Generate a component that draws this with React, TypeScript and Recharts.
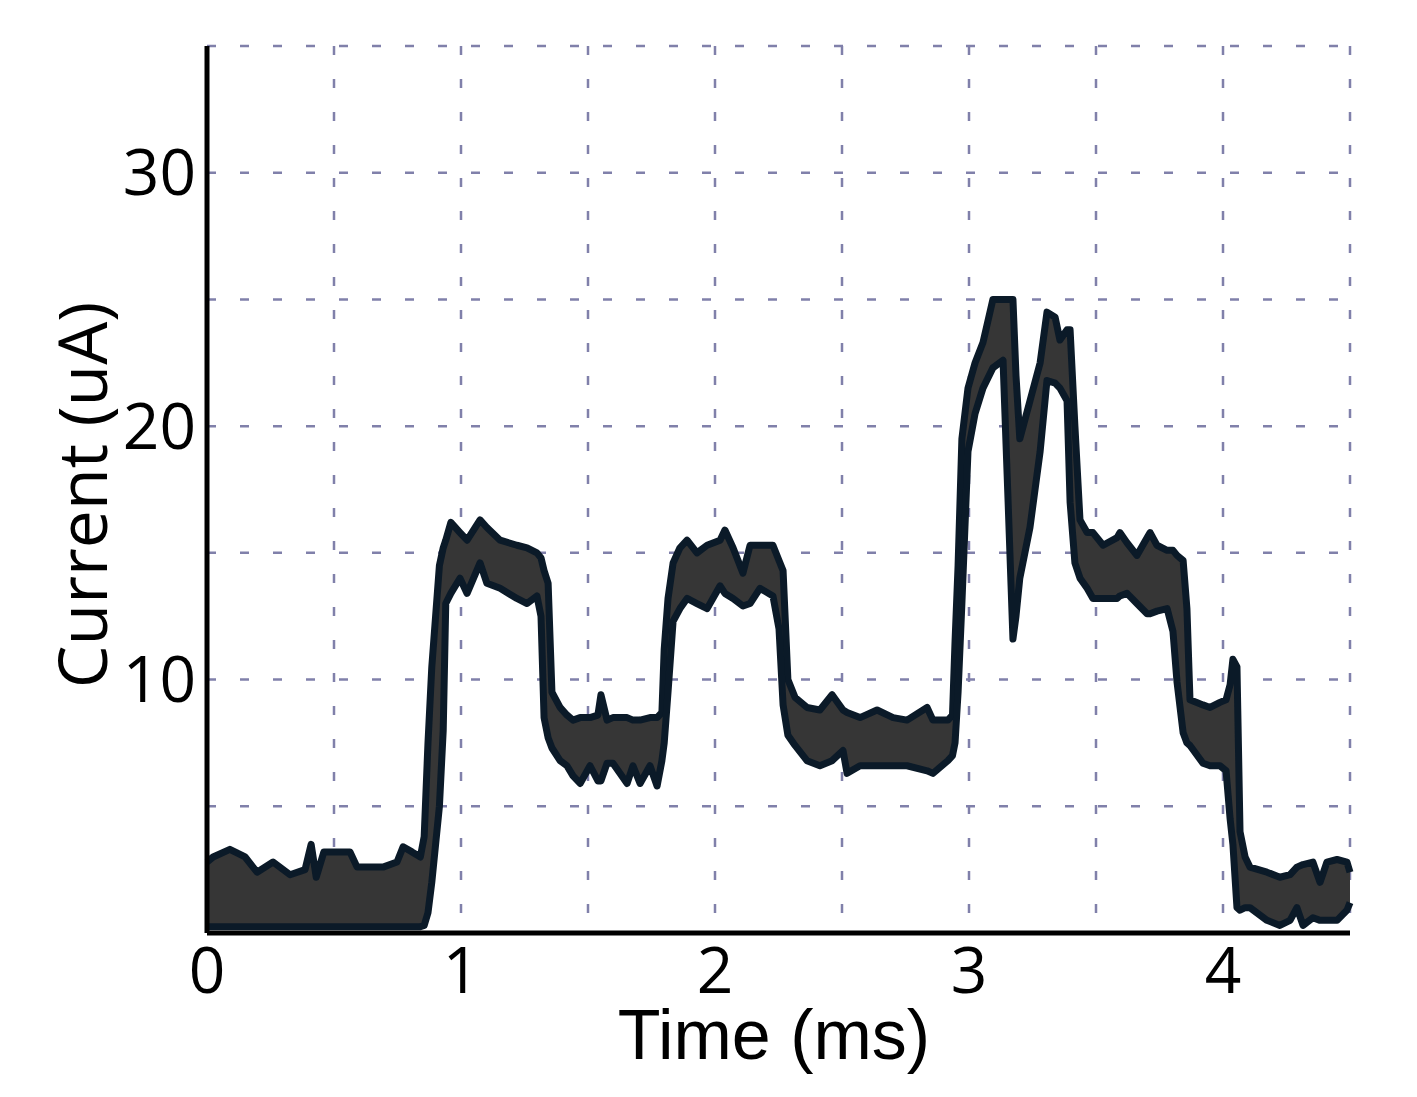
import { ComposedChart, Area, XAxis, YAxis, CartesianGrid } from "recharts";

// time in ms, and lower/upper edge of the current trace band in uA
const timeMs = [
  0, 0.024, 0.09, 0.15, 0.197, 0.26, 0.327, 0.386, 0.41, 0.43, 0.46, 0.496, 0.563, 0.591, 0.693, 0.748, 0.772, 0.807,
  0.84, 0.855, 0.87, 0.885, 0.9, 0.915, 0.93, 0.94, 0.96,
  0.996, 1.024, 1.075, 1.102, 1.154, 1.22, 1.26, 1.299, 1.315, 1.327, 1.343, 1.358,
  1.39, 1.417, 1.441, 1.469, 1.508, 1.539, 1.551, 1.575, 1.598, 1.654, 1.677, 1.705, 1.744, 1.772, 1.791,
  1.8, 1.815, 1.835, 1.862, 1.89,
  1.929, 1.969, 2.02, 2.039, 2.071, 2.11, 2.138, 2.177, 2.228, 2.252, 2.268, 2.287,
  2.315, 2.362, 2.413, 2.461, 2.504, 2.52, 2.571, 2.638, 2.701, 2.756, 2.835, 2.858, 2.917,
  2.935, 2.945, 2.957, 2.972, 2.996, 3.024, 3.055, 3.094, 3.134, 3.154, 3.173, 3.185, 3.2, 3.24, 3.28,
  3.307, 3.339, 3.358, 3.386, 3.398, 3.417, 3.437,
  3.465, 3.488, 3.528, 3.583, 3.594, 3.622, 3.661, 3.701, 3.713, 3.74, 3.78, 3.803, 3.819, 3.843, 3.858, 3.87,
  3.921, 3.949, 3.988, 4.012, 4.028, 4.039, 4.055, 4.067, 4.087,
  4.106, 4.173, 4.224, 4.264, 4.291, 4.315, 4.354, 4.382, 4.409, 4.449, 4.488, 4.5,
];

const lowUA = [
  0.25, 0.25, 0.25, 0.25, 0.25, 0.25, 0.25, 0.25, 0.25, 0.25, 0.25, 0.25, 0.25, 0.25, 0.25, 0.25, 0.25, 0.25,
  0.25, 0.3, 0.8, 2, 3.5, 5, 8, 13, 13.4,
  14.0, 13.4, 14.6, 13.8, 13.6, 13.2, 13.0, 13.3, 12.5, 8.5, 7.7, 7.3,
  6.8, 6.6, 6.2, 5.9, 6.6, 6.0, 6.0, 6.7, 6.7, 5.9, 6.6, 5.9, 6.6, 5.8, 6.8,
  7.5, 9.5, 12.3, 12.8, 13.2,
  13.0, 12.8, 13.7, 13.4, 13.2, 12.9, 13.0, 13.6, 13.3, 12.0, 9.0, 7.8,
  7.4, 6.8, 6.6, 6.8, 7.2, 6.3, 6.6, 6.6, 6.6, 6.6, 6.4, 6.3, 6.8,
  7.0, 7.5, 9.5, 13.0, 19.0, 20.5, 21.5, 22.3, 22.6, 17.0, 11.6, 12.5, 14.0, 16.0, 19.0,
  21.8, 21.7, 21.5, 21.0, 17.0, 14.6, 14.0,
  13.6, 13.2, 13.2, 13.2, 13.3, 13.4, 13.0, 12.6, 12.6, 12.7, 12.8, 11.9, 9.9, 7.9, 7.5, 7.4,
  6.7, 6.6, 6.6, 6.4, 4.5, 3.5, 1.0, 0.9, 1.0,
  1.0, 0.5, 0.3, 0.5, 1.0, 0.3, 0.6, 0.5, 0.5, 0.5, 0.9, 1.2,
];

const highUA = [
  2.8, 3.0, 3.3, 3.0, 2.4, 2.8, 2.3, 2.5, 3.5, 2.2, 3.2, 3.2, 3.2, 2.6, 2.6, 2.8, 3.4, 3.2,
  3.0, 3.8, 7.5, 10.5, 12.5, 14.5, 15.2, 15.5, 16.2,
  15.8, 15.5, 16.3, 16.0, 15.5, 15.3, 15.2, 15.0, 14.8, 14.3, 13.8, 9.5,
  8.9, 8.6, 8.4, 8.5, 8.5, 8.6, 9.4, 8.4, 8.5, 8.5, 8.4, 8.4, 8.5, 8.5, 8.7,
  11.2, 13.2, 14.6, 15.2, 15.5,
  15.0, 15.3, 15.5, 15.9, 15.2, 14.2, 15.3, 15.3, 15.3, 14.7, 14.3, 10.0,
  9.3, 8.9, 8.8, 9.4, 8.8, 8.7, 8.5, 8.8, 8.5, 8.4, 8.9, 8.4, 8.4,
  8.6, 11.5, 14.5, 19.5, 21.5, 22.5, 23.3, 25.0, 25.0, 25.0, 25.0, 22.0, 19.5, 21.0, 22.5,
  24.5, 24.3, 23.4, 23.8, 23.8, 20.0, 16.3,
  15.8, 15.8, 15.3, 15.6, 15.8, 15.4, 14.9, 15.6, 15.8, 15.3, 15.1, 15.1, 14.9, 14.7, 12.8, 9.2,
  9.0, 8.9, 9.1, 9.2, 9.8, 10.8, 10.5, 4.0, 3.0,
  2.6, 2.4, 2.2, 2.3, 2.6, 2.7, 2.8, 2.0, 2.8, 2.9, 2.8, 2.4,
];

const xTicks = [0, 0.5, 1, 1.5, 2, 2.5, 3, 3.5, 4, 4.5];
const yTicks = [0, 5, 10, 15, 20, 25, 30, 35];

const data = timeMs.map((t, i) => ({ t, band: [lowUA[i], highUA[i]] }));

const tickStyle = { fontFamily: "Open Sans", fontSize: 64, fill: "#000" };

function XTitle() {
  return (
    <text x={766} y={1051} textAnchor="middle" fontFamily="Liberation Sans" fontSize={70} fill="#000">
      Time (ms)
    </text>
  );
}

function YTitle() {
  return (
    <text
      transform="translate(99, 487) rotate(-90)"
      textAnchor="middle"
      fontFamily="Open Sans"
      fontSize={68}
      fill="#000"
    >
      Current (uA)
    </text>
  );
}

export default function App() {
  return (
    <ComposedChart
      width={1400}
      height={1080}
      data={data}
      margin={{ top: 38, right: 58, bottom: 5, left: 0 }}
    >
      <CartesianGrid stroke="#8080aa" strokeWidth={2.5} strokeDasharray="9 24" />
      <XAxis
        type="number"
        dataKey="t"
        domain={[0, 4.5]}
        ticks={xTicks}
        tickFormatter={(v: number) => (Number.isInteger(v) ? String(v) : "")}
        tick={tickStyle}
        tickLine={false}
        tickSize={0}
        tickMargin={15}
        height={150}
        axisLine={{ stroke: "#000", strokeWidth: 5 }}
        label={{ content: XTitle }}
      />
      <YAxis
        type="number"
        domain={[0, 35]}
        ticks={yTicks}
        tickFormatter={(v: number) => (v > 0 && v % 10 === 0 ? String(v) : "")}
        tick={tickStyle}
        tickLine={false}
        tickSize={0}
        tickMargin={11}
        width={199}
        axisLine={{ stroke: "#000", strokeWidth: 5 }}
        label={{ content: YTitle }}
      />
      <Area
        type="linear"
        dataKey="band"
        stroke="#0b1a28"
        strokeWidth={7}
        strokeLinejoin="round"
        fill="#363636"
        fillOpacity={1}
        dot={false}
        activeDot={false}
        isAnimationActive={false}
      />
    </ComposedChart>
  );
}
